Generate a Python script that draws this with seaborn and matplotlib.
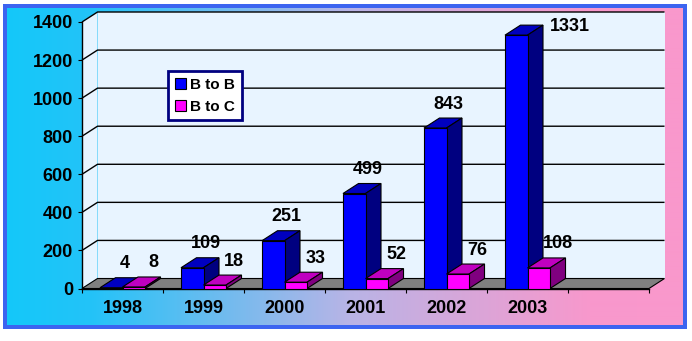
import numpy as np
import pandas as pd
import matplotlib
matplotlib.use("Agg")
import matplotlib.pyplot as plt
from matplotlib.patches import Polygon, Rectangle, Patch
import seaborn as sns

# ---- data ----
years = ['1998', '1999', '2000', '2001', '2002', '2003']
series_names = ['B to B', 'B to C']
b2b = [4, 109, 251, 499, 843, 1331]
b2c = [8, 18, 33, 52, 76, 108]
yticks = [0, 200, 400, 600, 800, 1000, 1200, 1400]

sns.set_theme(style="white")
plt.rcParams['font.family'] = ['Liberation Sans', 'DejaVu Sans']
plt.rcParams['font.weight'] = 'bold'
plt.rcParams['text.color'] = 'black'
plt.rcParams['xtick.color'] = 'black'
plt.rcParams['ytick.color'] = 'black'
plt.rcParams['axes.labelcolor'] = 'black'

W, H = 692, 341
fig = plt.figure(figsize=(W / 100, H / 100), dpi=100, facecolor='white')

# ---- background frame with gradient ----
bg = fig.add_axes([0, 0, 1, 1], zorder=-10)
bg.axis('off')
bg.add_patch(Rectangle((3, 4), 684, 325, facecolor='#3C64F0', edgecolor='none', zorder=1))
xs = np.arange(7, 683)
stops_x = [7, 90, 350, 590, 683]
stops_c = np.array([[20, 200, 250], [35, 195, 248], [185, 180, 230], [248, 152, 204], [250, 152, 204]]) / 255
grad = np.stack([np.interp(xs, stops_x, stops_c[:, k]) for k in range(3)], axis=-1)[None, :, :]
bg.imshow(grad, extent=(7, 683, 325, 8), aspect='auto', interpolation='bilinear', zorder=2)
bg.set_xlim(0, W)
bg.set_ylim(H, 0)

# ---- main axes (front plane) ----
x0p, x1p, y0p, y1p = 82, 649, 288.5, 22
ax = fig.add_axes([x0p / W, (H - y0p) / H, (x1p - x0p) / W, (y0p - y1p) / H])
ax.set_facecolor('none')

df = pd.DataFrame({
    'Year': years * 2,
    'Series': [series_names[0]] * len(years) + [series_names[1]] * len(years),
    'Value': b2b + b2c,
})
colors_front = ['#0000FF', '#FF00FF']
colors_top = ['#0000C0', '#C000C0']
colors_side = ['#000080', '#800080']
label_dx = [-2, 4]

sns.barplot(data=df, x='Year', y='Value', hue='Series', order=years,
            hue_order=series_names, palette=colors_front, saturation=1,
            width=0.556, edgecolor='black', linewidth=0.8, ax=ax, legend=False)

nslots = 7
ax.set_xlim(-0.5, nslots - 0.5)
ax.set_ylim(0, 1400)

# depth in data units
DXp, DYp = 15.5, 10.0
DX = DXp * nslots / (x1p - x0p)
DY = DYp * 1400 / (y0p - y1p)

wall_c = '#E8F4FF'
xl, xr = -0.5, nslots - 0.5
# side wall and back wall
ax.add_patch(Polygon([(xl, 0), (xl, 1400), (xl + DX, 1400 + DY), (xl + DX, DY)],
                     closed=True, facecolor=wall_c, edgecolor='none', zorder=0.5, clip_on=False))
ax.add_patch(Polygon([(xl + DX, DY), (xl + DX, 1400 + DY), (xr + DX, 1400 + DY), (xr + DX, DY)],
                     closed=True, facecolor=wall_c, edgecolor='none', zorder=0.5, clip_on=False))
# gridlines
for v in yticks[1:]:
    ax.plot([xl, xl + DX, xr + DX], [v, v + DY, v + DY], color='black', lw=1.0,
            zorder=0.8, clip_on=False, solid_capstyle='butt')
# floor
ax.add_patch(Polygon([(xl, 0), (xr, 0), (xr + DX, DY), (xl + DX, DY)], closed=True,
                     facecolor='#808080', edgecolor='black', lw=0.8, zorder=1, clip_on=False))

# 3D faces for bars
for si, cont in enumerate(ax.containers):
    zf = 2.5 + si
    for p in cont.patches:
        p.set_zorder(zf)
        bx, bw, bh = p.get_x(), p.get_width(), p.get_height()
        top = Polygon([(bx, bh), (bx + bw, bh), (bx + bw + DX, bh + DY), (bx + DX, bh + DY)],
                      closed=True, facecolor=colors_top[si], edgecolor='black', lw=0.8,
                      zorder=zf - 0.2, clip_on=False)
        side = Polygon([(bx + bw, 0), (bx + bw + DX, DY), (bx + bw + DX, bh + DY), (bx + bw, bh)],
                       closed=True, facecolor=colors_side[si], edgecolor='black', lw=0.8,
                       zorder=zf - 0.1, clip_on=False)
        ax.add_patch(top)
        ax.add_patch(side)
        # data label
        txt = f"{int(round(bh))}"
        lab_y = bh + DY + 14 * 1400 / (y0p - y1p)
        if lab_y > 1400:
            ax.annotate(txt, xy=(bx + bw + DX, bh + DY), xytext=(7, -1),
                        textcoords='offset pixels', ha='left', va='center',
                        fontsize=13, fontweight='bold', color='black', zorder=10)
        else:
            ax.annotate(txt, xy=(bx + bw / 2 + DX, bh + DY), xytext=(label_dx[si], 14),
                        textcoords='offset pixels', ha='center', va='center',
                        fontsize=13, fontweight='bold', color='black', zorder=10)

# axes styling
for s in ['top', 'right']:
    ax.spines[s].set_visible(False)
for s in ['left', 'bottom']:
    ax.spines[s].set_color('black')
    ax.spines[s].set_linewidth(1.0)
    ax.spines[s].set_zorder(1.5)

ax.set_yticks(yticks)
ax.set_yticklabels([str(v) for v in yticks], fontsize=13, fontweight='bold', color='black')
ax.tick_params(axis='y', direction='out', length=2.9, width=0.8, pad=3.5, colors='black', left=True)
ax.set_xticks(range(len(years)))
ax.set_xticklabels(years, fontsize=13, fontweight='bold', color='black')
ax.set_xticks(np.arange(-0.5, nslots), minor=True)
ax.tick_params(axis='x', which='major', length=0, pad=8.5, colors='black')
ax.tick_params(axis='x', which='minor', direction='out', length=3, width=0.8, color='black', bottom=True)
ax.set_xlabel('')
ax.set_ylabel('')
ax.grid(False)

# legend
handles = [Patch(facecolor=colors_front[i], edgecolor='black', lw=0.8, label=series_names[i]) for i in range(2)]
leg = ax.legend(handles=handles, loc='upper left', bbox_to_anchor=(168 / W, 1 - 71 / H),
                bbox_transform=fig.transFigure, borderaxespad=0, frameon=True, fancybox=False,
                handlelength=0.7, handleheight=0.7, handletextpad=0.3, labelspacing=0.5,
                borderpad=0.45, prop={'weight': 'bold', 'size': 11})
leg.get_frame().set_edgecolor('#000080')
leg.get_frame().set_linewidth(2.0)
leg.get_frame().set_facecolor('white')
leg.get_frame().set_alpha(1)
for t in leg.get_texts():
    t.set_color('black')
leg.set_zorder(20)

fig.savefig('out.png', dpi=100, facecolor='white')
